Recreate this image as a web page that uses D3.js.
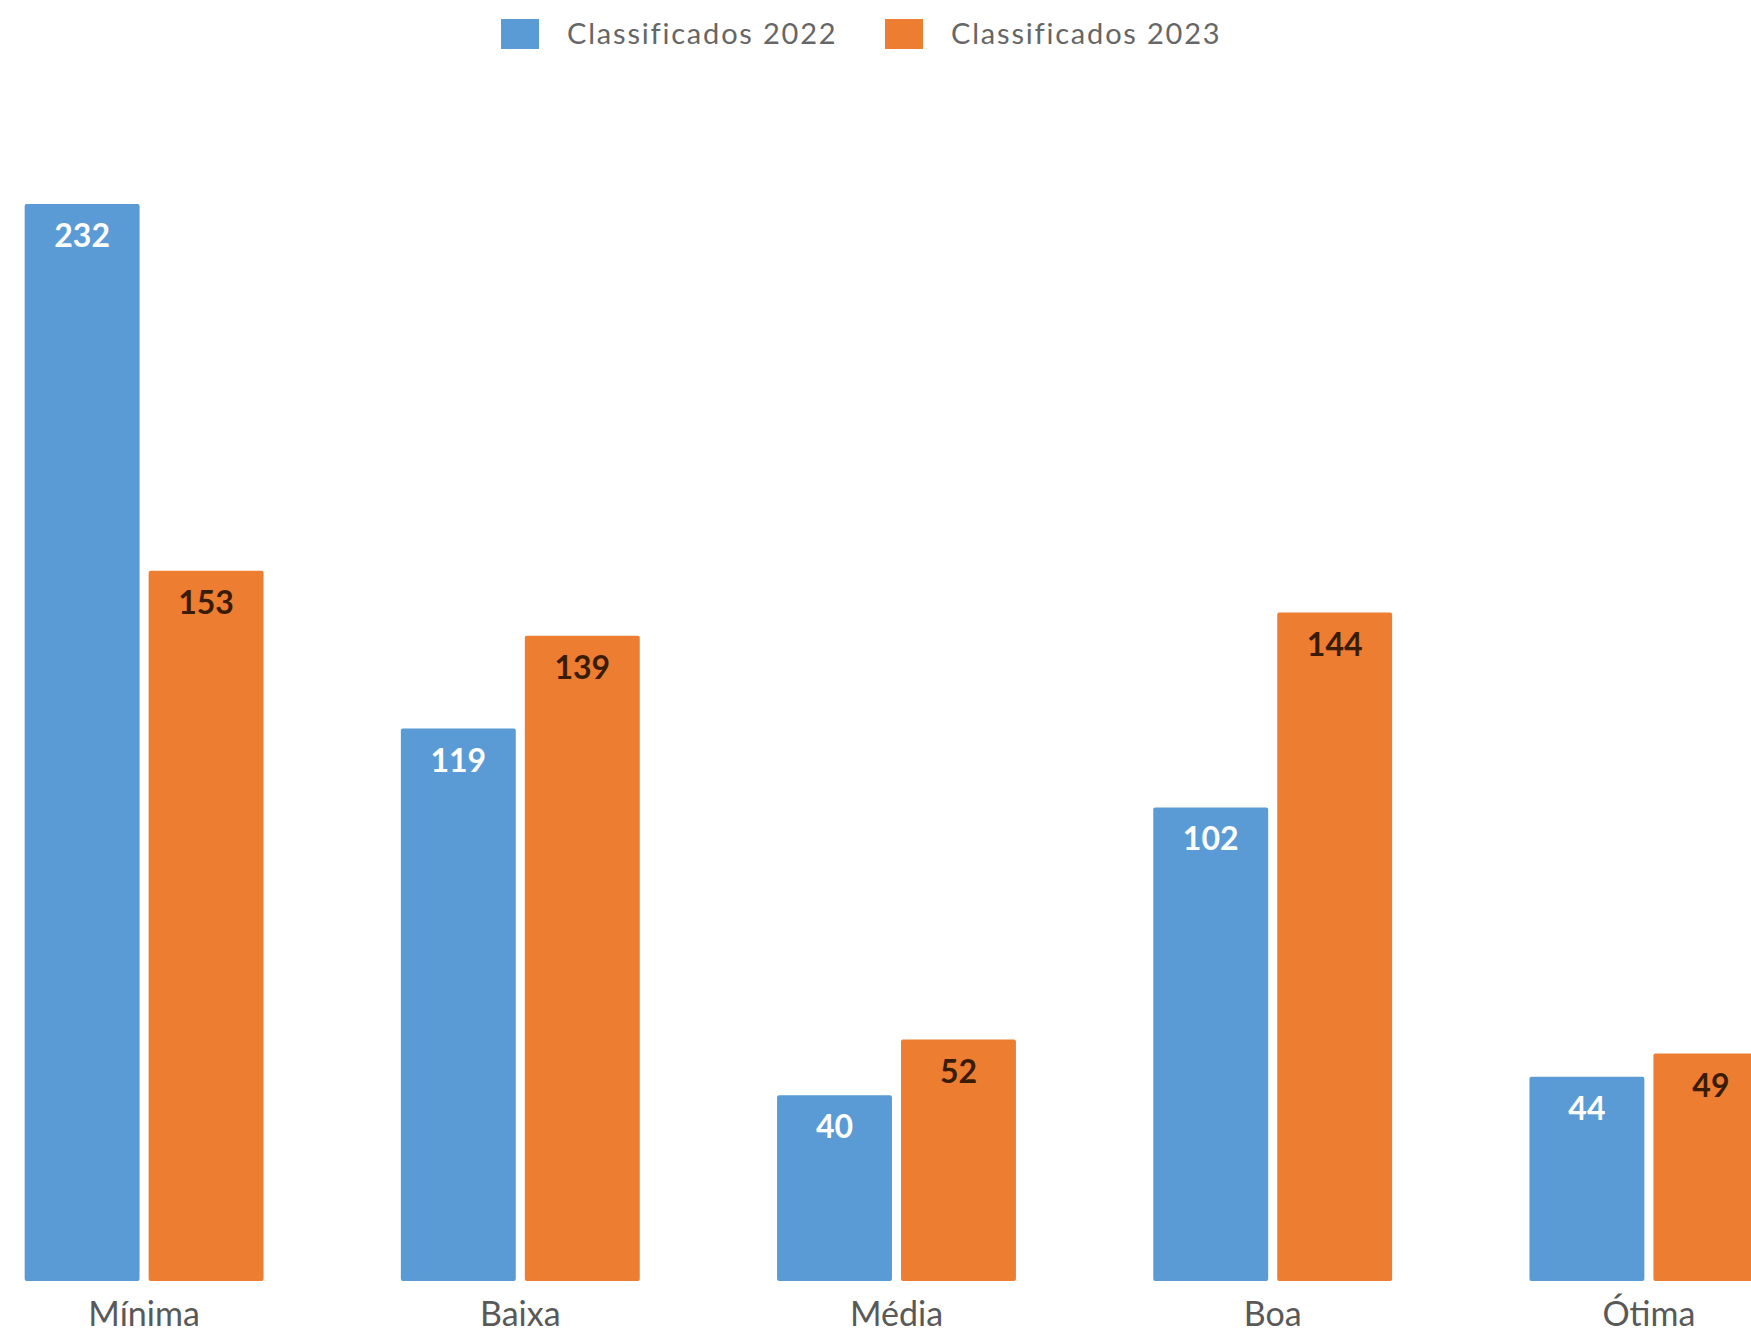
<!DOCTYPE html>
<html>
<head>
<meta charset="utf-8">
<script src="https://cdn.jsdelivr.net/npm/d3@7"></script>
<style>
	html, body { margin: 0; padding: 0; background: #fff; overflow: hidden; }
	svg { display: block; font-family: Lato, "Open Sans", sans-serif; }
</style>
</head>
<body>
<svg id="chart" width="1751" height="1332"></svg>
<script>
var categories = ['Mínima', 'Baixa', 'Média', 'Boa', 'Ótima'];
var seriesNames = ['Classificados 2022', 'Classificados 2023'];
var values2022 = [232, 119, 40, 102, 44];
var values2023 = [153, 139, 52, 144, 49];
var colors = ['#5B9BD5', '#ED7D31'];
var labelColors = ['#ffffff', '#3a1c05'];

var svg = d3.select('#chart');

var data = categories.map(function(c, i) {
	return { cat: c, vals: [values2022[i], values2023[i]] };
});

// group scale
var x0 = d3.scaleBand()
	.domain(categories)
	.range([-44, 1837])
	.paddingInner(0.365)
	.paddingOuter(0.1825);

var x1 = d3.scaleBand()
	.domain([0, 1])
	.range([0, x0.bandwidth()])
	.paddingInner(0.073);

var y = d3.scaleLinear()
	.domain([0, 232])
	.range([1281, 204]);

var groups = svg.append('g').attr('class', 'bars')
	.selectAll('g')
	.data(data)
	.enter()
	.append('g')
	.attr('transform', function(d) { return 'translate(' + x0(d.cat) + ',0)'; });

var bar = groups.selectAll('g')
	.data(function(d) { return d.vals.map(function(v, s) { return { v: v, s: s }; }); })
	.enter()
	.append('g');

bar.append('rect')
	.attr('x', function(d) { return x1(d.s); })
	.attr('y', function(d) { return y(d.v); })
	.attr('width', x1.bandwidth())
	.attr('height', function(d) { return y(0) - y(d.v); })
	.attr('rx', 2)
	.attr('fill', function(d) { return colors[d.s]; });

bar.append('text')
	.attr('x', function(d) { return x1(d.s) + x1.bandwidth() / 2; })
	.attr('y', function(d) { return y(d.v) + 43; })
	.attr('text-anchor', 'middle')
	.style('font-size', '32px')
	.style('font-weight', 'bold')
	.attr('fill', function(d) { return labelColors[d.s]; })
	.text(function(d) { return d.v; });

// category axis labels
var xAxis = d3.axisBottom(x0).tickSize(0).tickPadding(0);
var axisG = svg.append('g')
	.attr('transform', 'translate(0,' + 1302 + ')')
	.call(xAxis);
axisG.select('.domain').remove();
axisG.selectAll('text')
	.attr('dy', '0.71em')
	.style('font-family', 'Lato, "Open Sans", sans-serif')
	.style('font-size', '34px')
	.attr('fill', '#595959');

// legend
var legendX = [501, 885];
var legend = svg.append('g').attr('class', 'legend');
var item = legend.selectAll('.legend-item')
	.data(seriesNames)
	.enter()
	.append('g')
	.attr('class', 'legend-item')
	.attr('transform', function(d, i) { return 'translate(' + legendX[i] + ', 19)'; });

item.append('rect')
	.attr('width', 38)
	.attr('height', 30)
	.attr('fill', function(d, i) { return colors[i]; });

item.append('text')
	.attr('x', 66)
	.attr('y', 25)
	.style('font-size', '29px')
	.style('letter-spacing', '1.8px')
	.attr('fill', '#666666')
	.text(function(d) { return d; });
</script>
</body>
</html>
